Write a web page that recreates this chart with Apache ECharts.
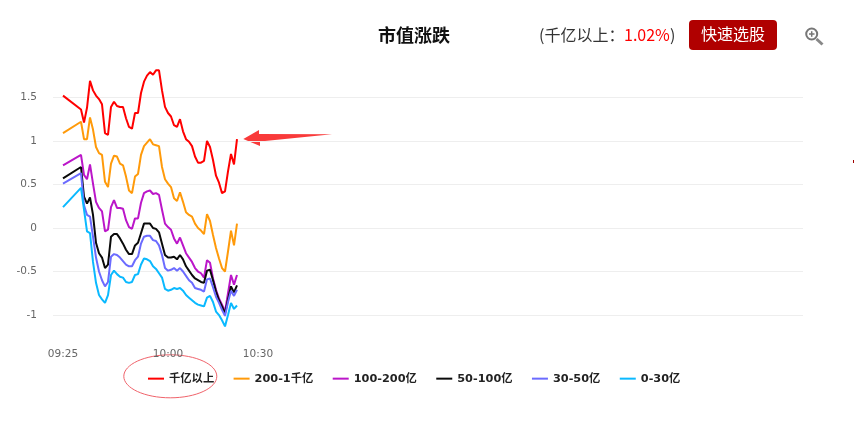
<!DOCTYPE html>
<html><head><meta charset="utf-8">
<style>html,body{margin:0;padding:0;background:#fff}#c{width:855px;height:427px}</style>
<script src="https://cdn.jsdelivr.net/npm/echarts@6/dist/echarts.min.js"></script>
</head><body><div id="c"></div>
<script>
const tickMinutes = [0, 35, 65];
const tickLabels = ['09:25', '10:00', '10:30'];
const seriesNames = ['千亿以上', '200-1千亿', '100-200亿', '50-100亿', '30-50亿', '0-30亿'];
const seriesColors = ['#ff0000', '#ff9a0a', '#bb16c9', '#0a0a0a', '#6b6bff', '#0ab9ff'];
const minutes = [0, 6, 7, 8, 9, 10, 11, 12, 13, 14, 15, 16, 17, 18, 19, 20, 21, 22, 23, 24, 25, 26, 27, 28, 29, 30, 31, 32, 33, 34, 35, 36, 37, 38, 39, 40, 41, 42, 43, 44, 45, 46, 47, 48, 49, 50, 51, 52, 53, 54, 55, 56, 57, 58];
const above1000 = [1.52, 1.36, 1.21, 1.38, 1.69, 1.58, 1.52, 1.48, 1.42, 1.09, 1.07, 1.39, 1.45, 1.40, 1.39, 1.39, 1.26, 1.16, 1.14, 1.32, 1.32, 1.55, 1.68, 1.75, 1.79, 1.76, 1.81, 1.81, 1.58, 1.39, 1.32, 1.28, 1.18, 1.16, 1.25, 1.11, 1.02, 0.99, 0.94, 0.82, 0.75, 0.75, 0.77, 1.00, 0.93, 0.78, 0.60, 0.52, 0.40, 0.42, 0.65, 0.85, 0.73, 1.02];
const cap200to1000 = [1.09, 1.22, 1.02, 1.02, 1.27, 1.13, 0.93, 0.86, 0.84, 0.53, 0.47, 0.74, 0.83, 0.82, 0.74, 0.72, 0.59, 0.43, 0.40, 0.59, 0.62, 0.84, 0.94, 0.98, 1.02, 0.96, 0.95, 0.94, 0.70, 0.56, 0.51, 0.47, 0.34, 0.31, 0.41, 0.30, 0.18, 0.15, 0.13, 0.05, 0.00, -0.03, -0.07, 0.16, 0.08, -0.08, -0.23, -0.35, -0.46, -0.50, -0.27, -0.03, -0.20, 0.05];
const cap100to200 = [0.72, 0.84, 0.61, 0.56, 0.73, 0.51, 0.30, 0.23, 0.19, -0.04, -0.02, 0.24, 0.32, 0.23, 0.23, 0.22, 0.09, 0.01, -0.01, 0.11, 0.11, 0.29, 0.40, 0.42, 0.43, 0.39, 0.40, 0.38, 0.21, 0.05, 0.01, -0.02, -0.12, -0.18, -0.11, -0.20, -0.29, -0.34, -0.39, -0.46, -0.50, -0.52, -0.57, -0.37, -0.40, -0.58, -0.71, -0.81, -0.88, -0.96, -0.75, -0.54, -0.65, -0.54];
const cap50to100 = [0.57, 0.70, 0.36, 0.28, 0.35, 0.15, -0.17, -0.29, -0.34, -0.46, -0.42, -0.10, -0.07, -0.07, -0.12, -0.18, -0.25, -0.30, -0.30, -0.20, -0.17, -0.06, 0.05, 0.05, 0.05, 0.00, -0.01, -0.05, -0.18, -0.31, -0.34, -0.34, -0.33, -0.36, -0.31, -0.36, -0.44, -0.49, -0.54, -0.58, -0.60, -0.62, -0.63, -0.49, -0.48, -0.60, -0.73, -0.83, -0.90, -0.98, -0.82, -0.67, -0.74, -0.66];
const cap30to50 = [0.51, 0.63, 0.26, 0.15, 0.13, -0.10, -0.34, -0.50, -0.60, -0.67, -0.62, -0.33, -0.30, -0.31, -0.34, -0.38, -0.42, -0.44, -0.44, -0.37, -0.33, -0.18, -0.10, -0.09, -0.09, -0.14, -0.15, -0.20, -0.31, -0.46, -0.49, -0.48, -0.46, -0.49, -0.46, -0.50, -0.55, -0.60, -0.63, -0.69, -0.70, -0.71, -0.73, -0.59, -0.58, -0.68, -0.79, -0.86, -0.94, -1.01, -0.85, -0.72, -0.78, -0.71];
const cap0to30 = [0.24, 0.46, 0.21, -0.04, -0.06, -0.39, -0.63, -0.77, -0.82, -0.86, -0.77, -0.54, -0.49, -0.53, -0.56, -0.57, -0.62, -0.63, -0.62, -0.54, -0.53, -0.42, -0.35, -0.36, -0.38, -0.44, -0.47, -0.52, -0.57, -0.70, -0.72, -0.71, -0.69, -0.70, -0.69, -0.72, -0.77, -0.80, -0.83, -0.86, -0.88, -0.89, -0.90, -0.80, -0.78, -0.85, -0.96, -1.00, -1.06, -1.13, -1.00, -0.86, -0.93, -0.89];
const allValues = [above1000, cap200to1000, cap100to200, cap50to100, cap30to50, cap0to30];

const sans = '"Microsoft YaHei","Noto Sans CJK SC","Liberation Sans",sans-serif';
const tickFont = '"DejaVu Sans",sans-serif';
const chart = echarts.init(document.getElementById('c'), null, {renderer: 'canvas'});
chart.setOption({
  animation: false,
  backgroundColor: '#fff',
  grid: {left: 53, width: 750, top: 53.8, height: 304.8},
  legend: {
    left: 143, top: 368, itemWidth: 16, itemHeight: 10, itemGap: 19.4,
    icon: 'path://M0 4H16V6H0Z',
    textStyle: {fontFamily: '"DejaVu Sans","Noto Sans CJK SC",sans-serif', fontSize: 11.3, fontWeight: 'bold', color: '#222'},
    data: seriesNames
  },
  xAxis: {
    type: 'value', min: -10 / 3, max: 250 - 10 / 3,
    axisLine: {show: false}, axisTick: {show: false}, splitLine: {show: false},
    axisLabel: {
      customValues: tickMinutes, margin: -10, fontSize: 10.5, color: '#666',
      fontFamily: tickFont,
      formatter: v => tickLabels[tickMinutes.indexOf(v)] || ''
    }
  },
  yAxis: {
    type: 'value', min: -1.5, max: 2, interval: 0.5,
    axisLine: {show: false}, axisTick: {show: false},
    splitLine: {show: true, showMinLine: false, showMaxLine: false, lineStyle: {color: '#eeeeee', width: 1}},
    axisLabel: {showMinLabel: false, showMaxLabel: false, margin: 16, fontSize: 10.5, color: '#666',
      fontFamily: tickFont, padding: [2, 0, 0, 0]}
  },
  series: seriesNames.map((name, k) => ({
    name, type: 'line', showSymbol: false, symbol: 'none', smooth: false,
    lineStyle: {color: seriesColors[k], width: 2},
    itemStyle: {color: seriesColors[k]},
    data: minutes.map((m, i) => [m, allValues[k][i]])
  })),
  graphic: [
    {type: 'text', left: 378, top: 26, style: {text: '市值涨跌', font: 'bold 18px ' + sans, fill: '#111'}},
    {type: 'text', left: 539, top: 27, style: {text: '(千亿以上：', font: '16px ' + sans, fill: '#333'}},
    {type: 'text', left: 624, top: 27, style: {text: '1.02%', font: '16px ' + sans, fill: '#ff0000'}},
    {type: 'text', left: 670, top: 27, style: {text: ')', font: '16px ' + sans, fill: '#333'}},
    {type: 'rect', shape: {x: 689, y: 20, width: 88, height: 30, r: 4}, style: {fill: '#b00000'}},
    {type: 'text', left: 701, top: 26, style: {text: '快速选股', font: '16px ' + sans, fill: '#fff'}},
    {type: 'circle', shape: {cx: 811.7, cy: 34, r: 5.5}, style: {fill: 'none', stroke: '#777', lineWidth: 2}},
    {type: 'line', shape: {x1: 809, y1: 34, x2: 814.5, y2: 34}, style: {stroke: '#777', lineWidth: 1.5}},
    {type: 'line', shape: {x1: 811.7, y1: 31.2, x2: 811.7, y2: 36.8}, style: {stroke: '#777', lineWidth: 1.5}},
    {type: 'line', shape: {x1: 816.5, y1: 39, x2: 822.5, y2: 44.5}, style: {stroke: '#888', lineWidth: 3}},
    {type: 'polygon', shape: {points: [[243.3, 139], [259, 130], [259, 134], [332, 134.3], [260, 141.5], [260, 146]]}, style: {fill: '#f93a3a'}},
    {type: 'ellipse', shape: {cx: 170.3, cy: 376.3, rx: 46.5, ry: 21.5}, style: {fill: 'none', stroke: '#f0636b', lineWidth: 1}},
    {type: 'rect', shape: {x: 853, y: 160, width: 1, height: 3}, style: {fill: '#a00000'}}
  ]
});
</script></body></html>
